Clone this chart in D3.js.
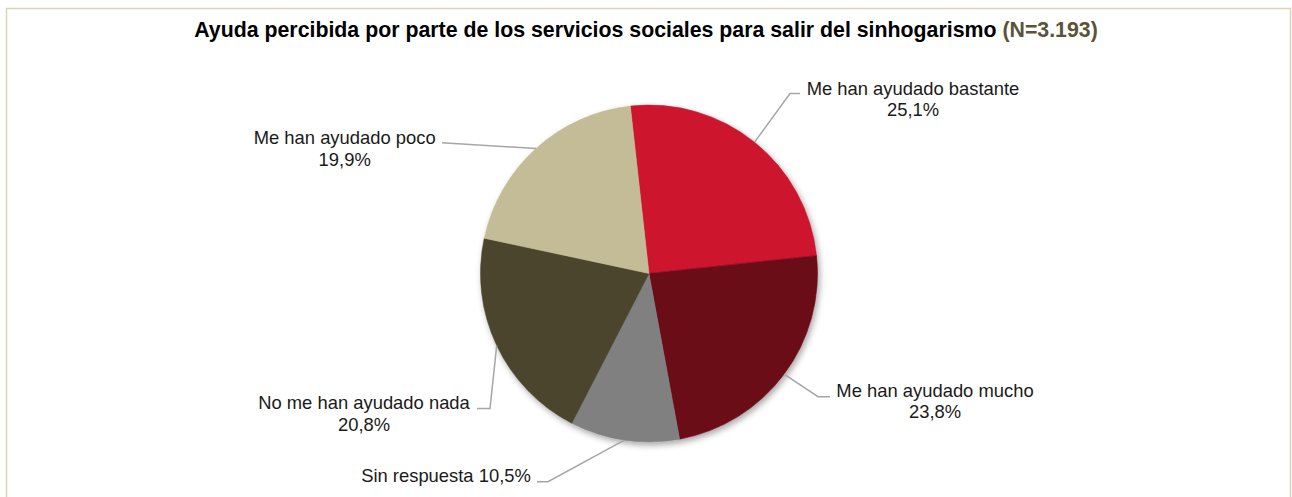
<!DOCTYPE html>
<html>
<head>
<meta charset="utf-8">
<script src="https://cdn.jsdelivr.net/npm/d3@7"></script>
<style>
  html, body { margin: 0; padding: 0; background: #ffffff; }
  svg { display: block; }
</style>
</head>
<body>
<svg id="chart" width="1292" height="497"></svg>
<script>
// ---- Data ----
const categories = ["Me han ayudado bastante", "Me han ayudado mucho", "Sin respuesta", "No me han ayudado nada", "Me han ayudado poco"];
const values = [25.1, 23.8, 10.5, 20.8, 19.9];
const valueLabels = ["25,1%", "23,8%", "10,5%", "20,8%", "19,9%"];
const titleMain = "Ayuda percibida por parte de los servicios sociales para salir del sinhogarismo ";
const titleN = "(N=3.193)";

// ---- Styles / layout ----
const colors = ["#CD132F", "#6A0919", "#808080", "#4B452D", "#C4BC96"];
const W = 1292, H = 497;
const cx = 649, cy = 273.5, R = 168.5;
const startDeg = -6.35;
const fontFamily = "Arial, 'Liberation Sans', Helvetica, sans-serif";
const labelSize = 18.4;

// label layout: text anchor position, and leader polyline (elbow, end)
const labelLayout = [
  { x: 913, y: 95, lines: 2, elbow: [790, 93.5], end: [800, 93.5] },
  { x: 935, y: 396.7, lines: 2, elbow: [818, 396.7], end: [830, 396.7] },
  { x: 446, y: 481.7, lines: 1, elbow: [548, 481.7], end: [537, 481.7] },
  { x: 364, y: 409.3, lines: 2, elbow: [490, 408.5], end: [477, 408.5] },
  { x: 344.7, y: 144.3, lines: 2, elbow: null, end: [442, 142.7] }
];

const svg = d3.select("#chart");

// Border
svg.append("rect")
  .attr("x", 6.5).attr("y", 8.5)
  .attr("width", 1284).attr("height", 500)
  .attr("fill", "#ffffff")
  .attr("stroke", "#D9D4B4").attr("stroke-width", 1.5);

// Title
const title = svg.append("text")
  .attr("x", W / 2).attr("y", 37)
  .attr("text-anchor", "middle")
  .attr("font-family", fontFamily)
  .attr("font-weight", "bold")
  .attr("font-size", 18.5)
  .attr("fill", "#000000");
title.append("tspan").text(titleMain);
title.append("tspan").attr("fill", "#5B5336").text(titleN);
// fit title to reference width
const tw = title.node().getComputedTextLength();
title.attr("font-size", 18.5 * 904 / tw);

// Shadow filter
const defs = svg.append("defs");
const f = defs.append("filter").attr("id", "shadow")
  .attr("x", "-20%").attr("y", "-20%").attr("width", "140%").attr("height", "140%");
f.append("feDropShadow")
  .attr("dx", 2).attr("dy", 3).attr("stdDeviation", 3)
  .attr("flood-color", "#000").attr("flood-opacity", 0.35);

// Pie
const total = d3.sum(values);
const pie = d3.pie().sort(null).value(d => d)
  .startAngle(startDeg * Math.PI / 180)
  .endAngle(startDeg * Math.PI / 180 + 2 * Math.PI);
const arcs = pie(values);
const arc = d3.arc().innerRadius(0).outerRadius(R);

const g = svg.append("g").attr("transform", `translate(${cx},${cy})`);
const sliceG = g.append("g").attr("filter", "url(#shadow)");
sliceG.selectAll("path")
  .data(arcs)
  .enter().append("path")
  .attr("d", arc)
  .attr("fill", (d, i) => colors[i])
  .attr("stroke", (d, i) => colors[i])
  .attr("stroke-width", 0.5);

// Leader lines
arcs.forEach((a, i) => {
  const mid = (a.startAngle + a.endAngle) / 2;
  const sx = cx + R * Math.sin(mid);
  const sy = cy - R * Math.cos(mid);
  const L = labelLayout[i];
  const pts = [[sx, sy]];
  if (L.elbow) pts.push(L.elbow);
  pts.push(L.end);
  svg.append("path")
    .attr("d", d3.line()(pts))
    .attr("fill", "none")
    .attr("stroke", "#A6A6A6")
    .attr("stroke-width", 1.5);
});

// Labels
categories.forEach((c, i) => {
  const L = labelLayout[i];
  const t = svg.append("text")
    .attr("text-anchor", "middle")
    .attr("font-family", fontFamily)
    .attr("font-size", labelSize)
    .attr("fill", "#1A1A1A");
  if (L.lines === 2) {
    t.append("tspan").attr("x", L.x).attr("y", L.y).text(c);
    t.append("tspan").attr("x", L.x).attr("y", L.y + 21.4).text(valueLabels[i]);
  } else {
    t.append("tspan").attr("x", L.x).attr("y", L.y).text(c + " " + valueLabels[i]);
  }
});
</script>
</body>
</html>
